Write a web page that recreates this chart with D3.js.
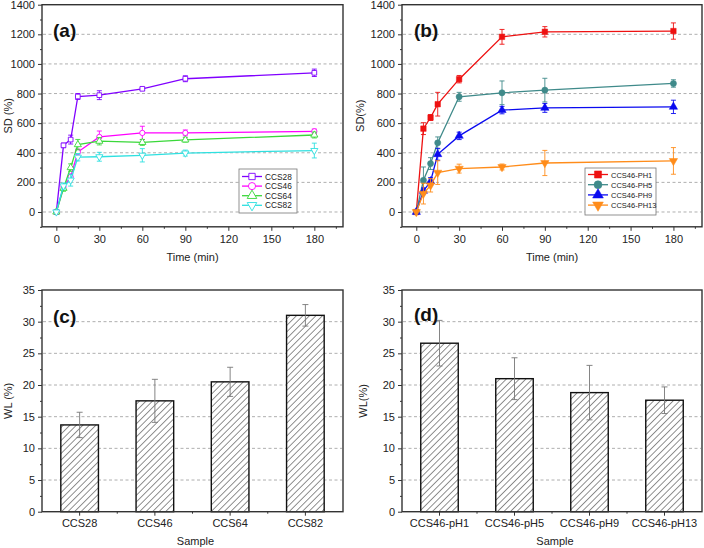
<!DOCTYPE html>
<html>
<head>
<meta charset="utf-8">
<script src="https://cdn.jsdelivr.net/npm/d3@7"></script>
<style>
  html, body { margin: 0; padding: 0; background: #fff; }
  svg text { font-family: "Liberation Sans", Arial, Helvetica, sans-serif; }
</style>
</head>
<body>
<svg id="chart" width="704" height="548"></svg>
<script>
// ---------- DATA ----------
const timeMin = [0, 5, 10, 15, 30, 60, 90, 180];

const ccsNames = ["CCS28", "CCS46", "CCS64", "CCS82"];
const ccs28 = [0, 450, 489, 780, 789, 832, 900, 940];
const ccs28Err = [0, 15, 30, 20, 30, 10, 20, 25];
const ccs46 = [0, 170, 237, 405, 507, 534, 534, 545];
const ccs46Err = [0, 15, 20, 20, 40, 45, 20, 15];
const ccs64 = [0, 160, 300, 455, 478, 470, 487, 520];
const ccs64Err = [0, 20, 25, 35, 25, 20, 15, 20];
const ccs82 = [0, 176, 215, 370, 373, 383, 398, 415];
const ccs82Err = [0, 20, 40, 25, 30, 45, 20, 50];

const phNames = ["CCS46-PH1", "CCS46-PH5", "CCS46-PH9", "CCS46-PH13"];
const ph1 = [0, 563, 638, 728, 897, 1183, 1217, 1222];
const ph1Err = [0, 40, 20, 80, 25, 50, 35, 55];
const ph5 = [0, 214, 327, 467, 778, 805, 823, 868];
const ph5Err = [0, 90, 40, 40, 30, 80, 80, 25];
const ph9 = [0, 142, 207, 390, 514, 688, 703, 710];
const ph9Err = [0, 20, 25, 40, 25, 25, 30, 45];
const ph13 = [0, 124, 180, 266, 293, 304, 331, 345];
const ph13Err = [0, 70, 45, 80, 30, 20, 85, 90];

const timeTicks = [0, 30, 60, 90, 120, 150, 180];
const sdTicks = [0, 200, 400, 600, 800, 1000, 1200, 1400];
const wlTicks = [0, 5, 10, 15, 20, 25, 30, 35];

const samplesC = ["CCS28", "CCS46", "CCS64", "CCS82"];
const wlC = [13.7, 17.5, 20.5, 31.0];
const wlCErr = [2.0, 3.4, 2.3, 1.7];

const samplesD = ["CCS46-pH1", "CCS46-pH5", "CCS46-pH9", "CCS46-pH13"];
const wlD = [26.6, 21.0, 18.8, 17.6];
const wlDErr = [3.6, 3.3, 4.3, 2.1];

// ---------- DRAW ----------
const svg = d3.select("#chart");
const defs = svg.append("defs");
const hatch = defs.append("pattern")
  .attr("id", "hatch").attr("patternUnits", "userSpaceOnUse")
  .attr("width", 4.6).attr("height", 4.6)
  .attr("patternTransform", "rotate(45)");
hatch.append("rect").attr("width", 4.6).attr("height", 4.6).attr("fill", "#fff");
hatch.append("line").attr("x1", 0).attr("y1", 0).attr("x2", 0).attr("y2", 4.6)
  .attr("stroke", "#222").attr("stroke-width", 1);

const axisColor = "#333";
const intFmt = d3.format("d");

function styleAxis(g) {
  g.select(".domain").remove();
  g.selectAll(".tick line").attr("stroke", axisColor).attr("stroke-width", 1);
  g.selectAll(".tick text").attr("fill", "#222").style("font-size", "11px");
}

function frame(x0, x1, y0, y1) {
  svg.append("rect").attr("x", x0).attr("y", y0)
    .attr("width", x1 - x0).attr("height", y1 - y0)
    .attr("fill", "none").attr("stroke", axisColor).attr("stroke-width", 1.4);
}

function grid(y, vals, x0, x1) {
  svg.append("g").selectAll("line").data(vals).join("line")
    .attr("x1", x0 + 1).attr("x2", x1 - 1)
    .attr("y1", d => y(d)).attr("y2", d => y(d))
    .attr("stroke", "#9a9a9a").attr("stroke-width", 0.8)
    .attr("stroke-dasharray", "3,2.5");
}

const symbols = [d3.symbolSquare, d3.symbolCircle, d3.symbolTriangle, d3.symbolTriangle];
function markerPath(i, size) {
  return d3.symbol().type(symbols[i]).size(size)();
}
function markerTransform(i, cx, cy) {
  return i === 3 ? `translate(${cx},${cy}) rotate(180)` : `translate(${cx},${cy})`;
}

function linePanel(cfg) {
  const { x0, x1, y0, y1, series, names, colors, filled, tag, ylabel, legend } = cfg;
  const x = d3.scaleLinear().domain([-10, 200]).range([x0, x1]);
  const y = d3.scaleLinear().domain([-100, 1400]).range([y1, y0]);

  grid(y, sdTicks.slice(0, 7), x0, x1);

  // axes
  const ax = svg.append("g").attr("transform", `translate(0,${y1})`)
    .call(d3.axisBottom(x).tickValues(timeTicks).tickFormat(intFmt).tickSize(4).tickPadding(4));
  styleAxis(ax);
  const axm = svg.append("g").attr("transform", `translate(0,${y1})`)
    .call(d3.axisBottom(x).tickValues(d3.range(15, 200, 30)).tickSize(2).tickFormat(""));
  styleAxis(axm);
  const ay = svg.append("g").attr("transform", `translate(${x0},0)`)
    .call(d3.axisLeft(y).tickValues(sdTicks).tickFormat(intFmt).tickSize(4).tickPadding(3));
  styleAxis(ay);
  const aym = svg.append("g").attr("transform", `translate(${x0},0)`)
    .call(d3.axisLeft(y).tickValues(d3.range(-100, 1400, 200)).tickSize(2).tickFormat(""));
  styleAxis(aym);

  // series
  series.forEach((s, i) => {
    const vals = s.v, errs = s.e, col = colors[i];
    const pts = timeMin.map((t, k) => ({ t, v: vals[k], e: errs[k] }));
    const g = svg.append("g");
    g.append("path").datum(pts)
      .attr("d", d3.line().x(d => x(d.t)).y(d => y(d.v)))
      .attr("fill", "none").attr("stroke", col).attr("stroke-width", 1.3);
    const eb = g.append("g").selectAll("g").data(pts.filter(d => d.e > 0)).join("g")
      .attr("stroke", col).attr("stroke-width", 0.9);
    eb.append("line").attr("x1", d => x(d.t)).attr("x2", d => x(d.t))
      .attr("y1", d => y(d.v - d.e)).attr("y2", d => y(d.v + d.e));
    eb.append("line").attr("x1", d => x(d.t) - 2.5).attr("x2", d => x(d.t) + 2.5)
      .attr("y1", d => y(d.v + d.e)).attr("y2", d => y(d.v + d.e));
    eb.append("line").attr("x1", d => x(d.t) - 2.5).attr("x2", d => x(d.t) + 2.5)
      .attr("y1", d => y(d.v - d.e)).attr("y2", d => y(d.v - d.e));
    g.append("g").selectAll("path").data(pts).join("path")
      .attr("d", markerPath(i, filled ? 30 : 22))
      .attr("transform", d => markerTransform(i, x(d.t), y(d.v)))
      .attr("fill", filled ? col : "#fff")
      .attr("stroke", col).attr("stroke-width", filled ? 0.5 : 0.9);
  });

  frame(x0, x1, y0, y1);

  // panel tag
  svg.append("text").attr("x", tag.x).attr("y", tag.y).text(tag.t)
    .style("font-size", "19px").style("font-weight", "bold").attr("fill", "#111");

  // axis titles
  svg.append("text").attr("x", (x0 + x1) / 2).attr("y", 261)
    .attr("text-anchor", "middle").style("font-size", "11px").attr("fill", "#222")
    .text("Time (min)");
  svg.append("text")
    .attr("transform", `translate(${ylabel.x},${(y0 + y1) / 2}) rotate(-90)`)
    .attr("text-anchor", "middle").style("font-size", "11px").attr("fill", "#222")
    .text(ylabel.t);

  // legend
  const L = legend;
  svg.append("rect").attr("x", L.x).attr("y", L.y).attr("width", L.w).attr("height", L.h)
    .attr("fill", "#fff").attr("stroke", "#777").attr("stroke-width", 0.8);
  names.forEach((n, i) => {
    const cy = L.y + L.first + i * L.step;
    const col = colors[i];
    svg.append("line").attr("x1", L.x + 3).attr("x2", L.x + 23)
      .attr("y1", cy).attr("y2", cy).attr("stroke", col).attr("stroke-width", 1.3);
    svg.append("path").attr("d", markerPath(i, filled ? 50 : 40))
      .attr("transform", markerTransform(i, L.x + 13, cy))
      .attr("fill", filled ? col : "#fff").attr("stroke", col).attr("stroke-width", filled ? 0.5 : 0.9);
    svg.append("text").attr("x", L.x + 26).attr("y", cy + 3)
      .style("font-size", L.fs + "px").attr("fill", "#222").text(n);
  });
}

function barPanel(cfg) {
  const { x0, x1, y0, y1, cats, vals, errs, tag, ylabel } = cfg;
  const x = d3.scaleBand().domain(cats).range([x0, x1]).paddingInner(0.5).paddingOuter(0.25);
  const y = d3.scaleLinear().domain([0, 35]).range([y1, y0]);

  grid(y, wlTicks.slice(1, 7), x0, x1);

  const data = cats.map((c, i) => ({ c, v: vals[i], e: errs[i] }));
  svg.append("g").selectAll("rect").data(data).join("rect")
    .attr("x", d => x(d.c)).attr("y", d => y(d.v))
    .attr("width", x.bandwidth()).attr("height", d => y(0) - y(d.v))
    .attr("fill", "url(#hatch)").attr("stroke", "#111").attr("stroke-width", 1.4);

  const eb = svg.append("g").selectAll("g").data(data).join("g")
    .attr("stroke", "#777").attr("stroke-width", 0.9);
  const cx = d => x(d.c) + x.bandwidth() / 2;
  eb.append("line").attr("x1", cx).attr("x2", cx)
    .attr("y1", d => y(d.v - d.e)).attr("y2", d => y(d.v + d.e));
  eb.append("line").attr("x1", d => cx(d) - 3).attr("x2", d => cx(d) + 3)
    .attr("y1", d => y(d.v + d.e)).attr("y2", d => y(d.v + d.e));
  eb.append("line").attr("x1", d => cx(d) - 3).attr("x2", d => cx(d) + 3)
    .attr("y1", d => y(d.v - d.e)).attr("y2", d => y(d.v - d.e));

  const ax = svg.append("g").attr("transform", `translate(0,${y1})`)
    .call(d3.axisBottom(x).tickSize(4).tickPadding(4));
  styleAxis(ax);
  // minor ticks between categories
  const step = x.step();
  const mids = cats.slice(0, -1).map(c => x(c) + x.bandwidth() / 2 + step / 2);
  svg.append("g").selectAll("line").data(mids).join("line")
    .attr("x1", d => d).attr("x2", d => d).attr("y1", y1).attr("y2", y1 + 2)
    .attr("stroke", axisColor);

  const ay = svg.append("g").attr("transform", `translate(${x0},0)`)
    .call(d3.axisLeft(y).tickValues(wlTicks).tickFormat(intFmt).tickSize(4).tickPadding(3));
  styleAxis(ay);
  const aym = svg.append("g").attr("transform", `translate(${x0},0)`)
    .call(d3.axisLeft(y).tickValues(d3.range(2.5, 35, 5)).tickSize(2).tickFormat(""));
  styleAxis(aym);

  frame(x0, x1, y0, y1);

  svg.append("text").attr("x", tag.x).attr("y", tag.y).text(tag.t)
    .style("font-size", "19px").style("font-weight", "bold").attr("fill", "#111");

  svg.append("text").attr("x", (x0 + x1) / 2 + 3).attr("y", 545)
    .attr("text-anchor", "middle").style("font-size", "11px").attr("fill", "#222")
    .text("Sample");
  svg.append("text")
    .attr("transform", `translate(${ylabel.x},${(y0 + y1) / 2}) rotate(-90)`)
    .attr("text-anchor", "middle").style("font-size", "11px").attr("fill", "#222")
    .text(ylabel.t);
}

linePanel({
  x0: 42, x1: 343, y0: 4.7, y1: 226.8,
  series: [{ v: ccs28, e: ccs28Err }, { v: ccs46, e: ccs46Err }, { v: ccs64, e: ccs64Err }, { v: ccs82, e: ccs82Err }],
  names: ccsNames,
  colors: ["#8000ff", "#ff00ff", "#3ad83a", "#2fe0e0"],
  filled: false,
  tag: { t: "(a)", x: 53, y: 37 },
  ylabel: { t: "SD (%)", x: 12 },
  legend: { x: 239, y: 169, w: 58, h: 44, first: 7.5, step: 9.6, fs: 8.3 }
});

linePanel({
  x0: 402, x1: 702, y0: 4.7, y1: 226.8,
  series: [{ v: ph1, e: ph1Err }, { v: ph5, e: ph5Err }, { v: ph9, e: ph9Err }, { v: ph13, e: ph13Err }],
  names: phNames,
  colors: ["#ee1111", "#3f8a8a", "#0a0af0", "#ff8c1a"],
  filled: true,
  tag: { t: "(b)", x: 414, y: 37 },
  ylabel: { t: "SD(%)", x: 364 },
  legend: { x: 585, y: 168, w: 71, h: 47, first: 6.5, step: 10.2, fs: 7.5 }
});

barPanel({
  x0: 42, x1: 343, y0: 290, y1: 511.7,
  cats: samplesC, vals: wlC, errs: wlCErr,
  tag: { t: "(c)", x: 53, y: 323 },
  ylabel: { t: "WL (%)", x: 12 }
});

barPanel({
  x0: 402, x1: 702, y0: 290, y1: 511.7,
  cats: samplesD, vals: wlD, errs: wlDErr,
  tag: { t: "(d)", x: 414, y: 321 },
  ylabel: { t: "WL(%)", x: 367 }
});
</script>
</body>
</html>
